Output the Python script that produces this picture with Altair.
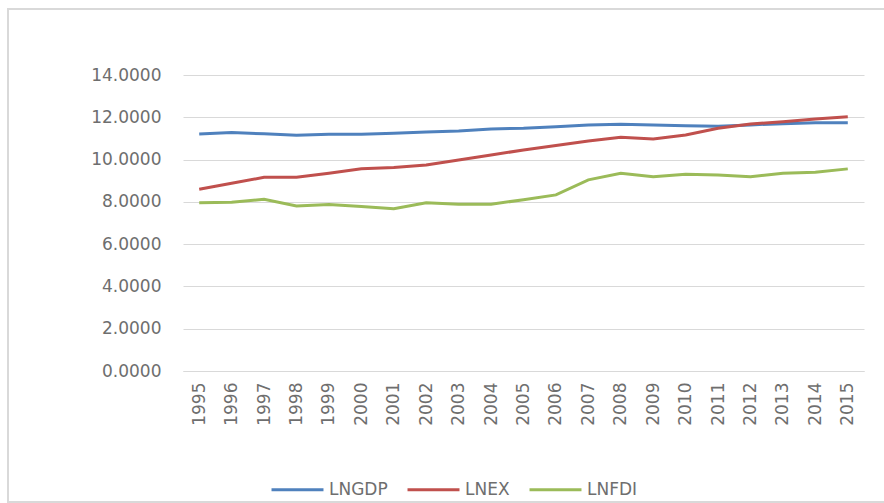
import altair as alt
import pandas as pd

years = [str(y) for y in range(1995, 2016)]
lngdp = [11.21, 11.28, 11.22, 11.15, 11.20, 11.20, 11.25, 11.30, 11.35, 11.45, 11.48,
         11.55, 11.64, 11.67, 11.64, 11.60, 11.58, 11.64, 11.70, 11.74, 11.74]
lnex = [8.60, 8.88, 9.16, 9.16, 9.35, 9.57, 9.62, 9.74, 9.98, 10.22, 10.45,
        10.67, 10.88, 11.05, 10.97, 11.16, 11.48, 11.68, 11.79, 11.92, 12.03]
lnfdi = [7.96, 7.98, 8.12, 7.81, 7.87, 7.78, 7.67, 7.96, 7.89, 7.89, 8.10,
         8.33, 9.04, 9.35, 9.19, 9.30, 9.27, 9.19, 9.35, 9.40, 9.56]
series = ["LNGDP", "LNEX", "LNFDI"]
colors = ["#4F81BD", "#C0504D", "#9BBB59"]
y_ticks = [0, 2, 4, 6, 8, 10, 12, 14]

df = pd.DataFrame({"Year": years, "LNGDP": lngdp, "LNEX": lnex, "LNFDI": lnfdi})
long = df.melt(id_vars="Year", var_name="Series", value_name="Value")

FONT = "DejaVu Sans"
GRAY = "#6E6E6E"

lines = alt.Chart(long).mark_line(strokeWidth=3).encode(
    x=alt.X("Year:N", sort=years, title=None,
            scale=alt.Scale(paddingInner=0, paddingOuter=0.5),
            axis=alt.Axis(labelAngle=270, labelPadding=11, ticks=False, grid=False,
                          domainColor="#D9D9D9", labelFont=FONT, labelFontSize=17,
                          labelColor=GRAY)),
    y=alt.Y("Value:Q", title=None,
            scale=alt.Scale(domain=[0, 14], nice=False),
            axis=alt.Axis(values=y_ticks, format=".4f", domain=False, ticks=False,
                          labelPadding=22, gridColor="#D9D9D9", labelFont=FONT,
                          labelFontSize=17, labelColor=GRAY)),
    color=alt.Color("Series:N", sort=series,
                    scale=alt.Scale(domain=series, range=colors),
                    legend=alt.Legend(title=None, orient="none", direction="horizontal",
                                      legendX=87, legendY=387, symbolType="stroke",
                                      symbolSize=2700, symbolStrokeWidth=3,
                                      labelFont=FONT, labelFontSize=17, labelColor=GRAY,
                                      labelOffset=4, columnPadding=13)),
)

border = alt.Chart(pd.DataFrame({"b": [0]})).mark_rect(
    fill=None, stroke="#D9D9D9", strokeWidth=2
).encode(x=alt.value(-175), x2=alt.value(720), y=alt.value(-66), y2=alt.value(427))

chart = alt.layer(border, lines).properties(
    width=681, height=296,
    padding={"left": 183, "top": 75, "right": 20, "bottom": 132},
    autosize=alt.AutoSizeParams(type="none"),
).configure(background="white").configure_view(stroke=None)

chart.save("out.html", embed_options={"renderer": "svg", "actions": False})
